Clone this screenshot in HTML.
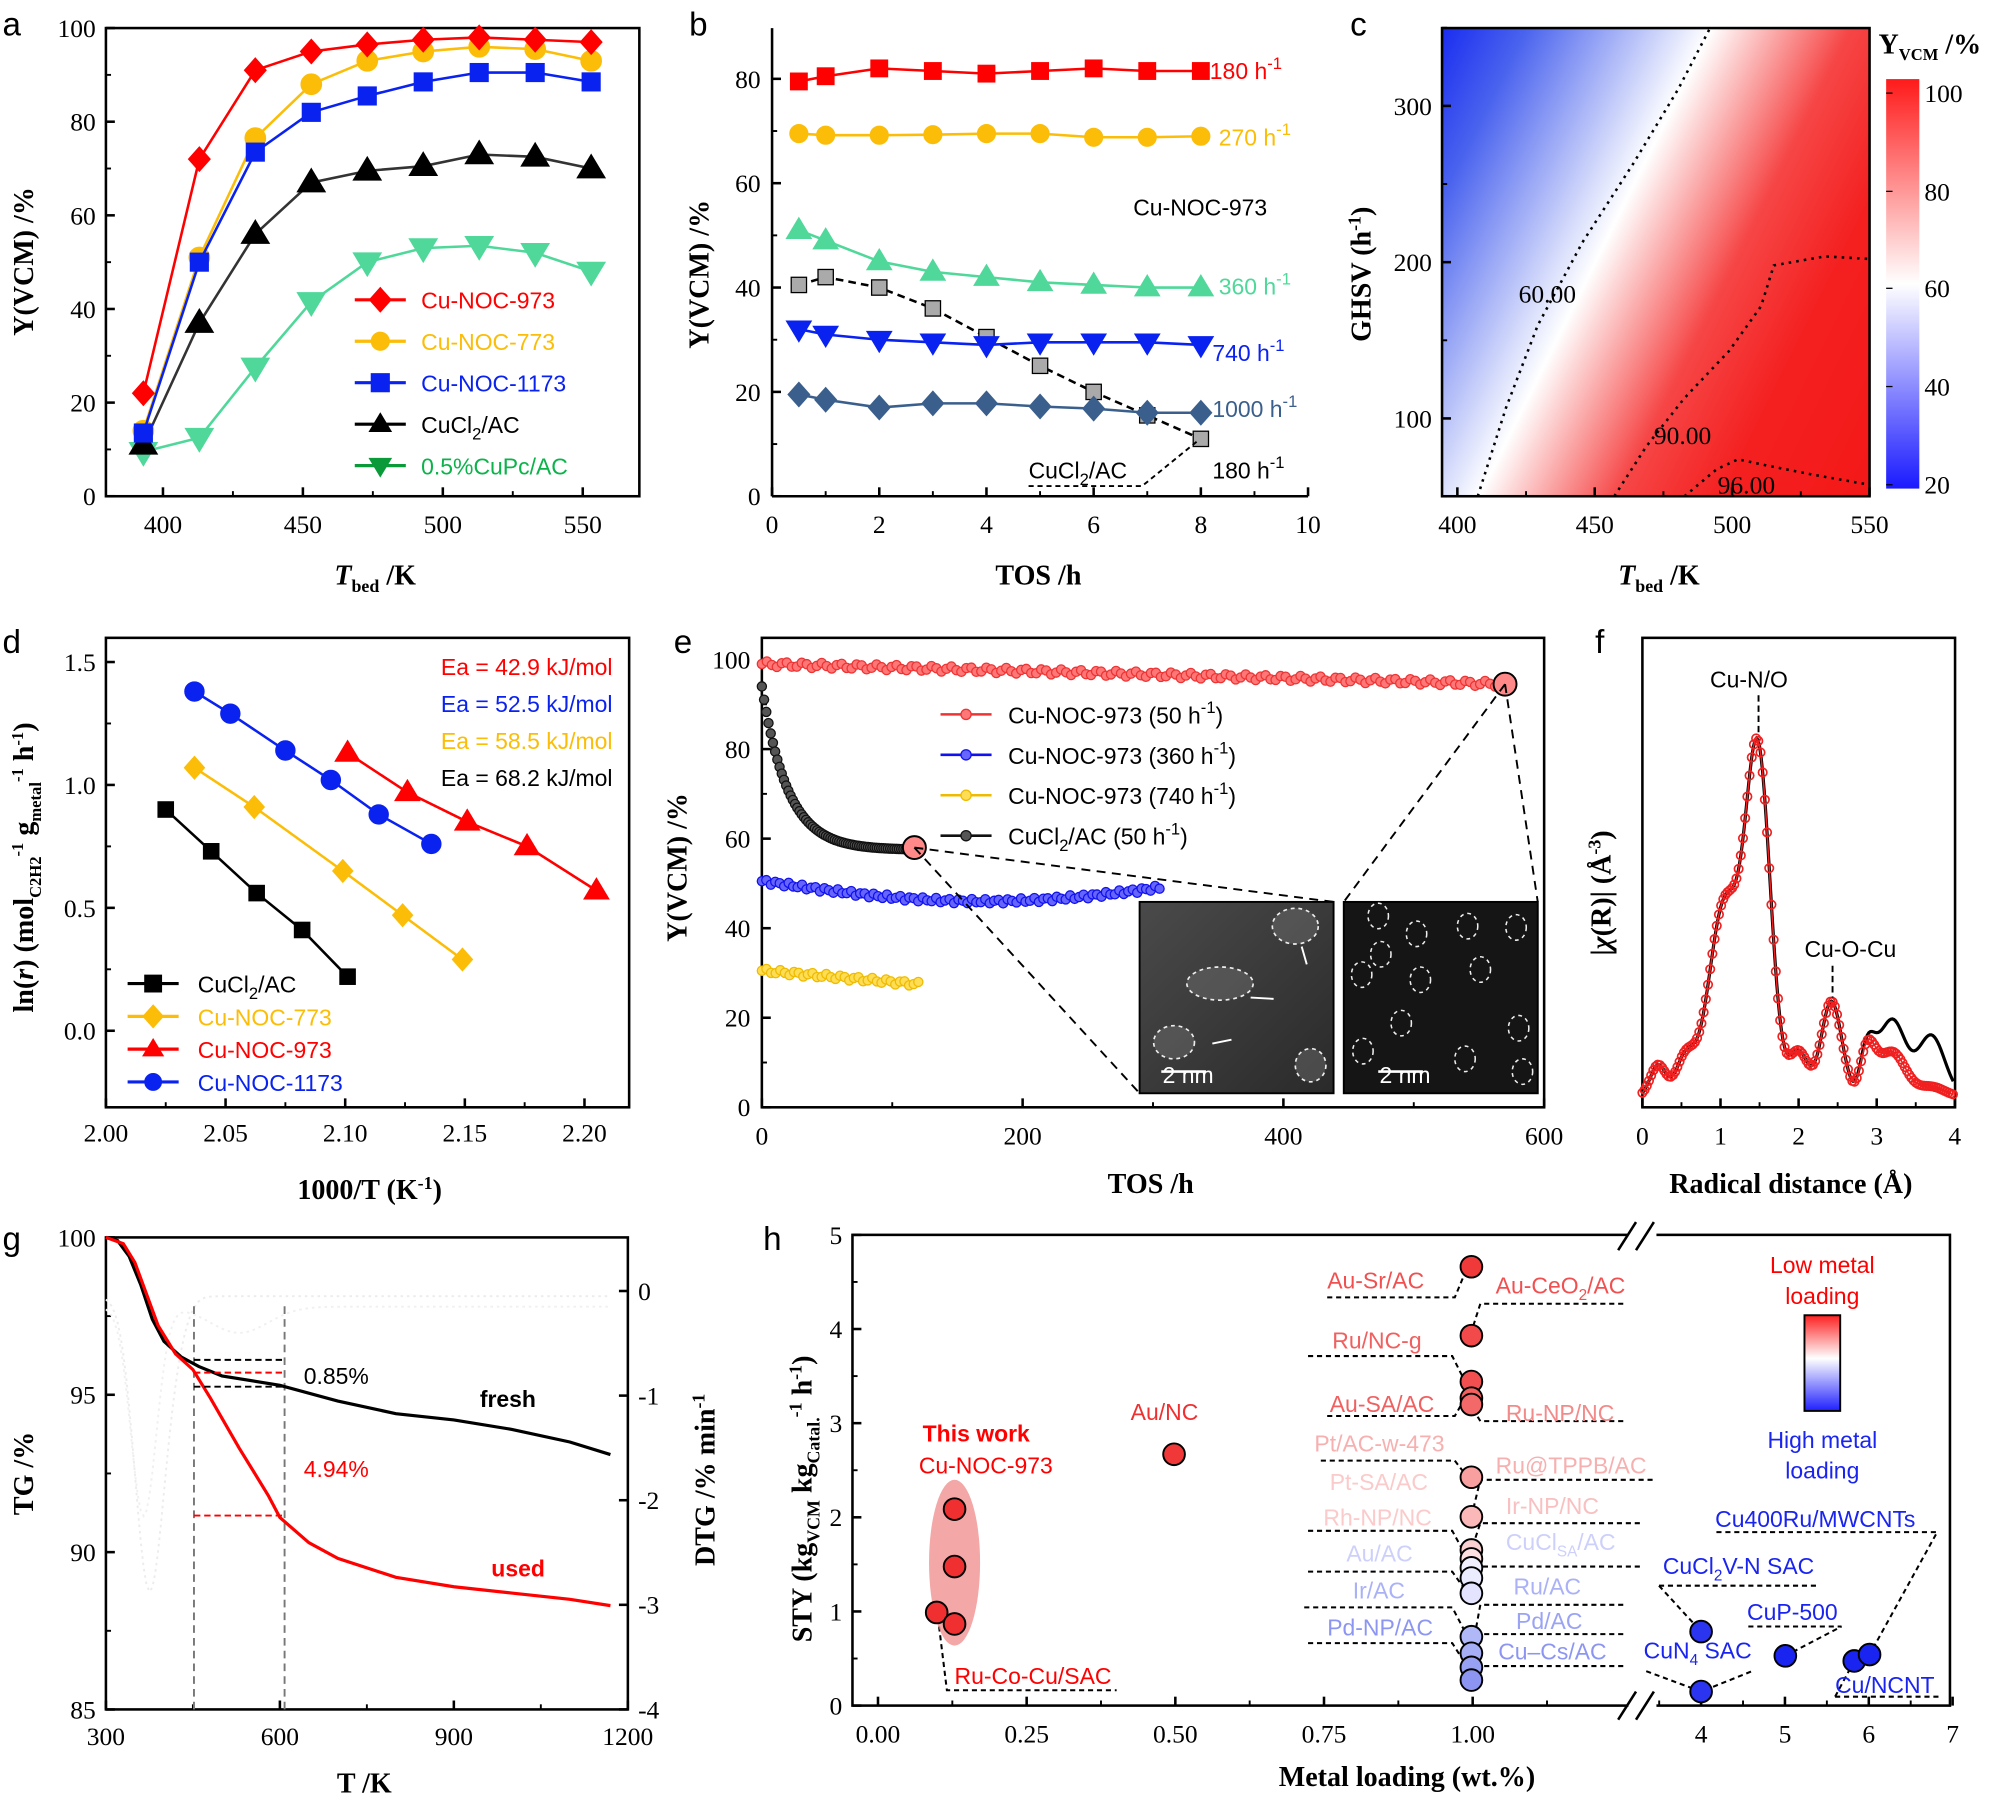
<!DOCTYPE html>
<html><head><meta charset="utf-8"><style>
html,body{margin:0;padding:0;background:#fff;}
svg{display:block;}
.t{font-family:"Liberation Serif",serif;font-size:20px;fill:#000;}
.ti{font-family:"Liberation Serif",serif;font-size:22px;font-weight:bold;fill:#000;}
.s{font-family:"Liberation Sans",sans-serif;font-size:18px;}
.p{font-family:"Liberation Sans",sans-serif;font-size:26px;fill:#000;}
</style></head><body>
<svg id="g" xmlns="http://www.w3.org/2000/svg" width="2001" height="1800" viewBox="0 0 1568 1411" preserveAspectRatio="none">
<defs>
<linearGradient id="hm" gradientUnits="userSpaceOnUse" x1="1080" y1="121" x2="1495" y2="327">
<stop offset="0" stop-color="#1a2cf0"/><stop offset="0.13" stop-color="#4a63ee"/><stop offset="0.41" stop-color="#ffffff"/><stop offset="0.62" stop-color="#f64646"/><stop offset="0.78" stop-color="#f42020"/><stop offset="1" stop-color="#f41818"/></linearGradient>
<linearGradient id="cb" x1="0" y1="0" x2="0" y2="1"><stop offset="0" stop-color="#ff1a1a"/><stop offset="0.5" stop-color="#ffffff"/><stop offset="1" stop-color="#1a1aff"/></linearGradient>
<linearGradient id="cb2" x1="0" y1="0" x2="0" y2="1"><stop offset="0" stop-color="#ff2020"/><stop offset="0.45" stop-color="#ffffff"/><stop offset="1" stop-color="#2020ff"/></linearGradient>
<linearGradient id="im1" x1="0" y1="0" x2="1" y2="1"><stop offset="0" stop-color="#4a4a4a"/><stop offset="1" stop-color="#2a2a2a"/></linearGradient>
</defs>
</svg>
<script>
const S=document.getElementById('g');const NS='http://www.w3.org/2000/svg';
function el(t,a,txt){const e=document.createElementNS(NS,t);for(const k in a)e.setAttribute(k,a[k]);if(txt!==undefined)e.innerHTML=txt;S.appendChild(e);return e;}
function line(x1,y1,x2,y2,c,w,d){return el('line',{x1,y1,x2,y2,stroke:c||'#000','stroke-width':w||2,'stroke-dasharray':d||'none'});}
function poly(pts,c,w,d){return el('polyline',{points:pts.map(p=>p.join(',')).join(' '),fill:'none',stroke:c,'stroke-width':w||2,'stroke-dasharray':d||'none'});}
function text(x,y,s,cls,extra){const a=Object.assign({x,y,class:cls},extra||{});return el('text',a,s);}
function mark(type,x,y,r,fill,stroke,sw){
 stroke=stroke||fill;sw=sw||1;
 if(type=='sq')el('rect',{x:x-r,y:y-r,width:2*r,height:2*r,fill,stroke,'stroke-width':sw});
 else if(type=='ci')el('circle',{cx:x,cy:y,r,fill,stroke,'stroke-width':sw});
 else if(type=='di')el('polygon',{points:`${x},${y-r*1.35} ${x+r*1.2},${y} ${x},${y+r*1.35} ${x-r*1.2},${y}`,fill,stroke,'stroke-width':sw});
 else if(type=='tu')el('polygon',{points:`${x},${y-r*1.2} ${x+r*1.2},${y+r*0.8} ${x-r*1.2},${y+r*0.8}`,fill,stroke,'stroke-width':sw});
 else if(type=='td')el('polygon',{points:`${x},${y+r*1.2} ${x+r*1.2},${y-r*0.8} ${x-r*1.2},${y-r*0.8}`,fill,stroke,'stroke-width':sw});
}
function series(xs,ys,fx,fy,col,type,r,lc,dash,mf,ms){
 const pts=xs.map((x,i)=>[fx(x),fy(ys[i])]);
 poly(pts,lc||col,2,dash);
 pts.forEach(p=>mark(type,p[0],p[1],r,mf||col,ms||col));
}
function box(x1,y1,x2,y2){el('rect',{x:x1,y:y1,width:x2-x1,height:y2-y1,fill:'none',stroke:'#000','stroke-width':2});}
function ylab(x,y,s,cls){el('text',{x,y,class:cls||'ti',transform:`rotate(-90 ${x} ${y})`,'text-anchor':'middle'},s);}

// ---------- panel a
{const fx=T=>127.7+(T-400)*2.193, fy=v=>389-3.67*v;
box(83,22,501,389);
text(2,28,'a','p');
[400,450,500,550].forEach(t=>{line(fx(t),389,fx(t),382);text(fx(t),418,t,'t',{'text-anchor':'middle'});});
[425,475,525].forEach(t=>line(fx(t),389,fx(t),385,'#000',1.5));
[0,20,40,60,80,100].forEach(v=>{line(83,fy(v),90,fy(v));text(75,fy(v)+7,v,'t',{'text-anchor':'end'});});
[10,30,50,70,90].forEach(v=>line(83,fy(v),87,fy(v),'#000',1.5));
const T=[393,413,433,453,473,493,513,533,553];
series(T,[9.5,12.5,27.5,41.5,50,53,53.5,52,48],fx,fy,'#4fd89a','td',9);
series(T,[11,37,56,67,69.5,70.5,73,72.5,70],fx,fy,'#000','tu',9,'#333');
series(T,[14,51,76.5,88,93,95,96,95.5,93],fx,fy,'#fbbd08','ci',8);
series(T,[13.5,50,73.5,82,85.5,88.5,90.5,90.5,88.5],fx,fy,'#0a22f0','sq',7);
series(T,[22,72,91,95,96.5,97.5,98,97.5,97],fx,fy,'#f00','di',7);
const L=[['Cu-NOC-973','#f00','di'],['Cu-NOC-773','#fbbd08','ci'],['Cu-NOC-1173','#0a22f0','sq'],['CuCl<tspan dy="5" font-size="13">2</tspan><tspan dy="-5">/AC</tspan>','#000','tu'],['0.5%CuPc/AC','#0bb34a','td']];
L.forEach((l,i)=>{const y=235+i*32.5;const c=i==4?'#0a9a3a':l[1];line(278,y,318,y,c,2.5);mark(l[2],298,y,7,c);text(330,y+7,l[0],'s',{fill:l[1]=='#0bb34a'?'#0bb34a':l[1],'font-size':19});});
ylab(26,205,'Y(VCM) /%');
el('text',{x:262,y:458,class:'ti'},'<tspan font-style="italic">T</tspan><tspan dy="6" font-size="14">bed</tspan><tspan dy="-6"> /K</tspan>');
}
// ---------- panel b
{const fx=t=>605+42*t, fy=v=>389-4.09*v;
line(605,22,605,389);line(605,389,1025,389);
text(540,28,'b','p');
for(let t=0;t<=10;t+=2){line(fx(t),389,fx(t),382);text(fx(t),418,t,'t',{'text-anchor':'middle'});}
for(let t=1;t<=9;t+=2)line(fx(t),389,fx(t),385,'#000',1.5);
[0,20,40,60,80].forEach(v=>{line(605,fy(v),612,fy(v));text(596,fy(v)+7,v,'t',{'text-anchor':'end'});});
[10,30,50,70].forEach(v=>line(605,fy(v),609,fy(v),'#000',1.5));
const t=[0.5,1,2,3,4,5,6,7,8];
series(t,[40.5,42,40,36,30.5,25,20,15.5,11],fx,fy,'#aaa','sq',6,'#000','6,4',null,'#000');
series(t,[19.5,18.5,17,17.8,17.8,17.2,16.8,16,16],fx,fy,'#3a5f8c','di',7);
series(t,[32,31,30,29.5,29,29.5,29.5,29.5,29],fx,fy,'#0a22f0','td',8);
series(t,[51,49,45,43,42,41,40.5,40,40],fx,fy,'#4fd89a','tu',8);
series(t,[69.5,69.2,69.2,69.3,69.5,69.5,68.8,68.8,69],fx,fy,'#fbbd08','ci',7);
series(t,[79.5,80.5,82,81.5,81,81.5,82,81.5,81.5],fx,fy,'#f00','sq',6.5);
const sup='<tspan dy="-8" font-size="13">-1</tspan>';
text(948,62,'180 h'+sup,'s',{fill:'#f00','font-size':19});
text(955,114,'270 h'+sup,'s',{fill:'#fbbd08','font-size':19});
text(888,169,'Cu-NOC-973','s',{fill:'#000','font-size':19});
text(955,231,'360 h'+sup,'s',{fill:'#4fd89a','font-size':19});
text(950,283,'740 h'+sup,'s',{fill:'#0a22f0','font-size':19});
text(950,327,'1000 h'+sup,'s',{fill:'#3a5f8c','font-size':19});
text(806,375,'CuCl<tspan dy="5" font-size="13">2</tspan><tspan dy="-5">/AC</tspan>','s',{fill:'#000','font-size':19});
text(950,375,'180 h'+sup,'s',{fill:'#000','font-size':19});
poly([[806,381],[895,381],[938,346]],'#000',1.5,'4,3');
ylab(555,215,'Y(VCM) /%');
text(780,458,'TOS /h','ti');
}
// ---------- panel c
{const fx=T=>1142+(T-400)*2.153, fy=v=>328-(v-100)*1.225;
el('rect',{x:1130,y:22,width:335,height:367,fill:'url(#hm)'});
poly([[1158,389],[1180,320],[1205,255],[1240,190],[1280,128],[1315,70],[1340,22]],'#000',2,'2,4');
poly([[1265,389],[1290,350],[1320,312],[1355,275],[1380,240],[1390,208],[1430,201],[1465,203]],'#000',2,'2,4');
poly([[1320,389],[1345,368],[1362,360],[1385,365],[1420,372],[1465,380]],'#000',2,'2,4');
text(1190,237,'60.00','t',{'font-size':18});text(1296,348,'90.00','t',{'font-size':18});text(1346,387,'96.00','t',{'font-size':18});
box(1130,22,1465,389);
text(1058,28,'c','p');
[400,450,500,550].forEach(t=>{line(fx(t),389,fx(t),382);text(fx(t),418,t,'t',{'text-anchor':'middle'});});
[425,475,525].forEach(t=>line(fx(t),389,fx(t),385,'#000',1.5));
[100,200,300].forEach(v=>{line(1130,fy(v),1137,fy(v));text(1122,fy(v)+7,v,'t',{'text-anchor':'end'});});
[50,150,250,350].forEach(v=>line(1130,fy(v),1134,fy(v),'#000',1.5));
ylab(1074,215,'GHSV (h<tspan dy="-8" font-size="14">-1</tspan><tspan dy="8">)</tspan>');
el('text',{x:1268,y:458,class:'ti'},'<tspan font-style="italic">T</tspan><tspan dy="6" font-size="14">bed</tspan><tspan dy="-6"> /K</tspan>');
el('rect',{x:1478,y:62,width:26,height:321,fill:'url(#cb)'});
[[100,73],[80,150],[60,226],[40,303],[20,380]].forEach(a=>{text(1508,a[1]+7,a[0],'t');line(1478,a[1],1483,a[1],'#000',1);});
el('text',{x:1472,y:42,class:'ti','font-size':20},'Y<tspan dy="5" font-size="13">VCM</tspan><tspan dy="-5"> /%</tspan>');
}
// ---------- panel d
{const fx=x=>83+(x-2)*1875, fy=v=>808-192.7*v;
box(83,500,493,868);
text(2,512,'d','p');
[2.00,2.05,2.10,2.15,2.20].forEach(x=>{line(fx(x),868,fx(x),861);text(fx(x),895,x.toFixed(2),'t',{'text-anchor':'middle'});});
[2.025,2.075,2.125,2.175].forEach(x=>line(fx(x),868,fx(x),864,'#000',1.5));
[0,0.5,1.0,1.5].forEach(v=>{line(83,fy(v),90,fy(v));text(75,fy(v)+7,v.toFixed(1),'t',{'text-anchor':'end'});});
[0.25,0.75,1.25].forEach(v=>line(83,fy(v),87,fy(v),'#000',1.5));
series([2.025,2.044,2.063,2.082,2.101],[0.90,0.73,0.56,0.41,0.22],fx,fy,'#000','sq',6);
series([2.037,2.062,2.099,2.124,2.149],[1.07,0.91,0.65,0.47,0.29],fx,fy,'#fbbd08','di',6.5);
series([2.101,2.126,2.151,2.176,2.205],[1.13,0.97,0.85,0.75,0.57],fx,fy,'#f00','tu',8);
series([2.037,2.052,2.075,2.094,2.114,2.136],[1.38,1.29,1.14,1.02,0.88,0.76],fx,fy,'#0a22f0','ci',7.5);
[['CuCl<tspan dy="5" font-size="13">2</tspan><tspan dy="-5">/AC</tspan>','#000','sq'],['Cu-NOC-773','#fbbd08','di'],['Cu-NOC-973','#f00','tu'],['Cu-NOC-1173','#0a22f0','ci']].forEach((l,i)=>{const y=771+i*25.7;line(100,y,140,y,l[1],2.5);mark(l[2],120,y,6.5,l[1]);text(155,y+7,l[0],'s',{fill:l[1],'font-size':19});});
[['Ea = 42.9 kJ/mol','#f00'],['Ea = 52.5 kJ/mol','#0a22f0'],['Ea = 58.5 kJ/mol','#fbbd08'],['Ea = 68.2 kJ/mol','#000']].forEach((l,i)=>text(480,529+i*29,l[0],'s',{fill:l[1],'font-size':19,'text-anchor':'end'}));
el('text',{x:26,y:680,class:'ti','font-size':20,transform:'rotate(-90 26 680)','text-anchor':'middle'},'ln(<tspan font-style="italic">r</tspan>) (mol<tspan dy="6" font-size="13">C2H2</tspan><tspan dy="-14" font-size="13">-1</tspan><tspan dy="8"> g</tspan><tspan dy="6" font-size="13">metal</tspan><tspan dy="-14" font-size="13">-1</tspan><tspan dy="8"> h</tspan><tspan dy="-8" font-size="13">-1</tspan><tspan dy="8">)</tspan>');
text(233,940,'1000/T (K<tspan dy="-8" font-size="14">-1</tspan><tspan dy="8">)</tspan>','ti');
}
// ---------- panel e
{const fx=t=>597+t*1.0217, fy=v=>868-3.51*v;
box(597,500,1210,868);
text(528,512,'e','p');
[0,200,400,600].forEach(t=>{line(fx(t),868,fx(t),861);text(fx(t),897,t,'t',{'text-anchor':'middle'});});
[100,300,500].forEach(t=>line(fx(t),868,fx(t),864,'#000',1.5));
[0,20,40,60,80,100].forEach(v=>{line(597,fy(v),604,fy(v));text(588,fy(v)+7,v,'t',{'text-anchor':'end'});});
[10,30,50,70,90].forEach(v=>line(597,fy(v),601,fy(v),'#000',1.5));
function dots(t0,t1,n,f,col,fill){for(let i=0;i<n;i++){const t=t0+(t1-t0)*i/(n-1);el('circle',{cx:fx(t),cy:fy(f(t,i)),r:3.6,fill:fill,stroke:col,'stroke-width':1});}}
dots(0,570,150,(t,i)=>99-4.5*t/570+0.6*Math.sin(i*1.7),'#e33','#f77');
dots(0,117,70,t=>57.5+36.5*Math.exp(-t/20),'#111','#555');
dots(0,305,90,(t,i)=>50.5-4.5*Math.sin(Math.PI*t/340)+0.5*Math.sin(i*2.3),'#11e','#66f');
dots(0,120,35,(t,i)=>30.5-3*t/120+0.5*Math.sin(i*1.9),'#eb0','#fd5');
el('circle',{cx:fx(117),cy:fy(58),r:9,fill:'#f88',stroke:'#000','stroke-width':1.5});
el('circle',{cx:fx(570),cy:fy(94.5),r:9,fill:'#f88',stroke:'#000','stroke-width':1.5});
line(fx(117),fy(58),893,857,'#000',1.5,'7,5');line(fx(117),fy(58),1045,707,'#000',1.5,'7,5');
line(fx(570),fy(94.5),1053,707,'#000',1.5,'7,5');line(fx(570),fy(94.5),1205,707,'#000',1.5,'7,5');
el('rect',{x:893,y:707,width:152,height:150,fill:'url(#im1)',stroke:'#000','stroke-width':1.5});
el('rect',{x:1053,y:707,width:152,height:150,fill:'#151515',stroke:'#000','stroke-width':1.5});
[[956,771,26,13],[1015,726,18,14],[920,817,16,13],[1027,835,12,13]].forEach(e=>el('ellipse',{cx:e[0],cy:e[1],rx:e[2],ry:e[3],fill:'#777','fill-opacity':0.4,stroke:'#eee','stroke-width':1.3,'stroke-dasharray':'3,3'}));
[[1080,718],[1110,732],[1150,726],[1188,727],[1067,764],[1082,748],[1113,768],[1160,760],[1098,802],[1190,806],[1068,824],[1148,830],[1193,840]].forEach(e=>el('ellipse',{cx:e[0],cy:e[1],rx:8,ry:10,fill:'none',stroke:'#eee','stroke-width':1.2,'stroke-dasharray':'3,3'}));
line(910,840,945,840,'#fff',2);text(911,849,'2 nm','s',{fill:'#fff','font-size':15});
line(1080,840,1115,840,'#fff',2);text(1081,849,'2 nm','s',{fill:'#fff','font-size':15});
line(998,783,980,782,'#fff',1.5);line(1024,756,1020,742,'#fff',1.5);line(965,815,950,818,'#fff',1.5);
const sup='<tspan dy="-8" font-size="13">-1</tspan><tspan dy="8">)</tspan>';
[['Cu-NOC-973 (50 h'+sup,'#e33','#f77'],['Cu-NOC-973 (360 h'+sup,'#11e','#66f'],['Cu-NOC-973 (740 h'+sup,'#eb0','#fd5'],['CuCl<tspan dy="5" font-size="13">2</tspan><tspan dy="-5">/AC (50 h</tspan>'+sup,'#111','#555']].forEach((l,i)=>{const y=560+i*31.7;line(737,y,777,y,l[1],2);el('circle',{cx:757,cy:y,r:4,fill:l[2],stroke:l[1]});text(790,y+7,l[0],'s',{fill:'#000','font-size':19});});
ylab(538,680,'Y(VCM) /%');
text(868,935,'TOS /h','ti');
}
// ---------- panel f
{const fx=r=>1287+61.2*r;
box(1287,500,1532,868);
text(1250,512,'f','p');
[0,1,2,3,4].forEach(r=>{line(fx(r),868,fx(r),861);text(fx(r),897,r,'t',{'text-anchor':'middle'});});
[0.5,1.5,2.5,3.5].forEach(r=>line(fx(r),868,fx(r),864,'#000',1.5));
function g(r,m,s){return Math.exp(-((r-m)*(r-m))/(2*s*s));}
function f(r,k){return 860-25*g(r,0.2,0.1)-30*g(r,0.55,0.12)-150*g(r,1.05,0.2)-265*g(r,1.48,0.16)-35*g(r,2.0,0.12)-75*g(r,2.42,0.13)-45*g(r,2.85,0.12)-(k?60:35)*g(r,3.2,0.17)-(k?48:8)*g(r,3.7,0.17)+20*g(r,2.75,0.08);}
const pb=[];for(let r=0;r<=4;r+=0.02){pb.push([fx(r),f(r,1)]);}
poly(pb,'#000',2.5);
for(let r=0;r<=4;r+=0.028){el('circle',{cx:fx(r),cy:f(r,0),r:3.3,fill:'none',stroke:'#f02020','stroke-width':1.3});}
poly((()=>{const a=[];for(let r=0;r<=4;r+=0.02)a.push([fx(r),f(r,0)]);return a;})(),'#f02020',1.2);
line(1378,545,1378,575,'#000',1.5,'5,3');line(1436,757,1436,782,'#000',1.5,'5,3');
text(1340,539,'Cu-N/O','s',{'font-size':19});text(1414,750,'Cu-O-Cu','s',{'font-size':19});
el('text',{x:1262,y:700,class:'ti',transform:'rotate(-90 1262 700)','text-anchor':'middle'},'|<tspan font-style="italic">χ</tspan>(R)| (Å<tspan dy="-8" font-size="14">-3</tspan><tspan dy="8">)</tspan>');
text(1308,935,'Radical distance (Å)','ti');
}
// ---------- panel g
{const fx=T=>83+(T-300)*0.4544, fy=v=>970+(100-v)*24.67, fd=d=>1012-82*d;
box(83,970,492,1340);
text(2,980,'g','p');
[300,600,900,1200].forEach(t=>{line(fx(t),1340,fx(t),1333);text(fx(t),1368,t,'t',{'text-anchor':'middle'});});
[450,750,1050].forEach(t=>line(fx(t),1340,fx(t),1336,'#000',1.5));
[85,90,95,100].forEach(v=>{line(83,fy(v),90,fy(v));text(75,fy(v)+7,v,'t',{'text-anchor':'end'});});
[87.5,92.5,97.5].forEach(v=>line(83,fy(v),87,fy(v),'#000',1.5));
[0,-1,-2,-3,-4].forEach(d=>{line(492,fd(d),485,fd(d));text(500,fd(d)+7,d,'t');});
const dt=[];for(let T=300;T<=1170;T+=5){let v=-0.05-2.8*Math.exp(-((T-375)**2)/(2*25*25))-0.3*Math.exp(-((T-420)**2)/800);dt.push([fx(T),fd(v)]);}
poly(dt,'#ececec',1.5,'2,3');
const dt2=[];for(let T=300;T<=1170;T+=5){let v=-0.15-2.0*Math.exp(-((T-365)**2)/(2*22*22))-0.25*Math.exp(-((T-530)**2)/5000);dt2.push([fx(T),fd(v)]);}
poly(dt2,'#f0f0f0',1.5,'2,3');
line(152,1024,152,1340,'#777',1.5,'6,4');line(223,1024,223,1340,'#777',1.5,'6,4');
const bk=[[300,100],[320,99.9],[340,99.4],[360,98.5],[380,97.4],[400,96.7],[430,96.2],[460,95.9],[500,95.6],[600,95.3],[700,94.8],[800,94.4],[900,94.2],[1000,93.9],[1100,93.5],[1170,93.1]];
const rd=[[300,100],[330,99.8],[350,99.2],[370,98.2],[390,97.2],[420,96.3],[450,95.8],[480,94.9],[530,93.3],[580,91.8],[600,91.1],[650,90.3],[700,89.8],[800,89.2],[900,88.9],[1000,88.7],[1100,88.5],[1170,88.3]];
poly(bk.map(p=>[fx(p[0]),fy(p[1])]),'#000',2.5);
poly(rd.map(p=>[fx(p[0]),fy(p[1])]),'#f00',2.5);
line(152,1066,223,1066,'#000',1.5,'5,3');line(152,1087,223,1087,'#000',1.5,'5,3');
line(152,1076,223,1076,'#f00',1.5,'5,3');line(152,1188,223,1188,'#f00',1.5,'5,3');
text(238,1085,'0.85%','s',{'font-size':19});text(376,1103,'fresh','s',{'font-size':20,'font-weight':'bold'});
text(238,1158,'4.94%','s',{'font-size':19,fill:'#f00'});text(385,1236,'used','s',{'font-size':20,'font-weight':'bold',fill:'#f00'});
ylab(26,1155,'TG /%');
el('text',{x:560,y:1160,class:'ti',transform:'rotate(-90 560 1160)','text-anchor':'middle'},'DTG /% min<tspan dy="-8" font-size="14">-1</tspan>');
text(264,1405,'T /K','ti');
}
// ---------- panel h
{const fx=x=>688+466*(x-0), fy=v=>1337-73.8*v, fr=x=>1333+65.7*(x-4);
el('rect',{x:668,y:968,width:860,height:369,fill:'none',stroke:'#000','stroke-width':2});
el('rect',{x:1276,y:960,width:22,height:385,fill:'#fff'});
line(1268,980,1282,958);line(1282,980,1296,958);line(1268,1348,1282,1326);line(1282,1348,1296,1326);
text(598,980,'h','p');
[0,0.25,0.5,0.75,1.0].forEach(x=>{line(fx(x),1337,fx(x),1330);text(fx(x),1366,x.toFixed(2),'t',{'text-anchor':'middle'});});
[0.125,0.375,0.625,0.875,1.125].forEach(x=>line(fx(x),1337,fx(x),1333,'#000',1.5));
[4,5,6,7].forEach(x=>{line(fr(x),1337,fr(x),1330);text(fr(x),1366,x,'t',{'text-anchor':'middle'});});
[3.5,4.5,5.5,6.5].forEach(x=>line(fr(x),1337,fr(x),1333,'#000',1.5));
[0,1,2,3,4,5].forEach(v=>{line(668,fy(v),675,fy(v));text(660,fy(v)+7,v,'t',{'text-anchor':'end'});});
[0.5,1.5,2.5,3.5,4.5].forEach(v=>line(668,fy(v),672,fy(v),'#000',1.5));
const D='4,3';
[[[1040,1017],[1140,1017],[1150,993]],[[1272,1022],[1160,1022],[1152,1047]],[[1025,1063],[1138,1063],[1148,1083]],[[1272,1114],[1160,1114],[1152,1101]],[[1040,1110],[1140,1110],[1148,1096]],[[1035,1145],[1140,1145],[1150,1158]],[[1295,1160],[1160,1160],[1153,1189]],[[1025,1200],[1138,1200],[1150,1222]],[[1285,1194],[1160,1194],[1153,1215]],[[1025,1232],[1138,1232],[1150,1249]],[[1285,1228],[1160,1228],[1153,1237]],[[1022,1260],[1138,1260],[1150,1283]],[[1272,1258],[1160,1258],[1153,1296]],[[1025,1288],[1138,1288],[1150,1307]],[[1272,1281],[1160,1281],[1153,1317]],[[1272,1306],[1160,1306],[1153,1317]],[[735,1268],[742,1325],[875,1325]],[[1300,1243],[1425,1243]],[[1300,1243],[1333,1279]],[[1370,1275],[1443,1275],[1399,1298]],[[1345,1201],[1518,1201],[1465,1297]],[[1290,1310],[1333,1326],[1373,1310]],[[1438,1330],[1520,1330]],[[1438,1330],[1453,1302]]].forEach(p=>poly(p,'#000',1.6,D));
el('ellipse',{cx:748,cy:1225,rx:20,ry:65,fill:'#f08a8a','fill-opacity':0.75});
const C=(c,x,y)=>el('circle',{cx:x,cy:y,r:8.5,fill:c,stroke:'#000','stroke-width':1.5});
C('#f03030',734,1264);C('#f03030',748,1273);C('#f03030',748,1183);C('#f03030',748,1228);
C('#f03838',920,1140);
[[993,'#f03a3a'],[1047,'#f24a4a'],[1083,'#f25050'],[1096,'#f36060'],[1101,'#f36868'],[1158,'#f8a0a0'],[1189,'#fab8b8'],[1215,'#fbd0d0'],[1222,'#fde0e0'],[1229,'#f0f0ff'],[1237,'#ececff'],[1249,'#e4e4ff'],[1283,'#b0b8f8'],[1296,'#a6aef6'],[1307,'#98a2f4'],[1317,'#8c96f2']].forEach(a=>C(a[1],1153,a[0]));
C('#2b35f0',1333,1279);C('#2b35f0',1333,1326);C('#1a24f0',1399,1298);C('#1a24f0',1453,1302);C('#1a24f0',1465,1297);
const T=(x,y,s,c,a)=>text(x,y,s,'s',{fill:c,'font-size':18,'text-anchor':a||'start'});
T(1040,1010,'Au-Sr/AC','#f25050');T(1172,1014,'Au-CeO<tspan dy="5" font-size="12">2</tspan><tspan dy="-5">/AC</tspan>','#f25050');
T(1044,1057,'Ru/NC-g','#f06060');T(1042,1107,'Au-SA/AC','#f06060');T(1180,1114,'Ru-NP/NC','#f38a8a');
T(1030,1138,'Pt/AC-w-473','#f7b0b0');T(1172,1155,'Ru@TPPB/AC','#f7b0b0');T(1042,1168,'Pt-SA/AC','#fbcaca');
T(1180,1187,'Ir-NP/NC','#f8c0c0');T(1037,1196,'Rh-NP/NC','#fbcaca');T(1180,1215,'CuCl<tspan dy="5" font-size="12">SA</tspan><tspan dy="-5">/AC</tspan>','#cdd0fa');
T(1055,1224,'Au/AC','#cdd0fa');T(1186,1250,'Ru/AC','#aab1f6');T(1060,1253,'Ir/AC','#aab1f6');
T(1040,1282,'Pd-NP/AC','#8c96f2');T(1188,1277,'Pd/AC','#9aa3f4');T(1174,1301,'Cu–Cs/AC','#8c96f2');
T(1288,1300,'CuN<tspan dy="5" font-size="12">4</tspan><tspan dy="-5"> SAC</tspan>','#1a24f0');T(1303,1234,'CuCl<tspan dy="5" font-size="12">2</tspan><tspan dy="-5">V-N SAC</tspan>','#1a24f0');
T(1369,1270,'CuP-500','#1a24f0');T(1344,1197,'Cu400Ru/MWCNTs','#1a24f0');T(1438,1327,'Cu/NCNT','#1a24f0');
T(886,1113,'Au/NC','#f03030');T(720,1155,'Cu-NOC-973','#f00');
text(723,1130,'This work','s',{fill:'#f00','font-size':18,'font-weight':'bold'});
T(748,1320,'Ru-Co-Cu/SAC','#f00');
T(1428,998,'Low metal','#f00','middle');T(1428,1022,'loading','#f00','middle');
T(1428,1135,'High metal','#1a24f0','middle');T(1428,1159,'loading','#1a24f0','middle');
el('rect',{x:1414,y:1031,width:28,height:75,fill:'url(#cb2)',stroke:'#000','stroke-width':1.5});
el('text',{x:636,y:1175,class:'ti',transform:'rotate(-90 636 1175)','text-anchor':'middle'},'STY (kg<tspan dy="6" font-size="14">VCM</tspan><tspan dy="-6"> kg</tspan><tspan dy="6" font-size="14">Catal.</tspan><tspan dy="-14" font-size="14">-1</tspan><tspan dy="8"> h</tspan><tspan dy="-8" font-size="14">-1</tspan><tspan dy="8">)</tspan>');
text(1002,1400,'Metal loading (wt.%)','ti');
}
</script>
</body></html>
